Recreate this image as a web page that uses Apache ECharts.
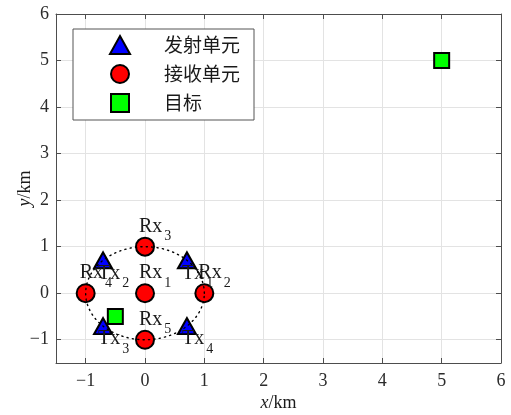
<!DOCTYPE html>
<html>
<head>
<meta charset="utf-8">
<script src="https://cdn.jsdelivr.net/npm/echarts@6/dist/echarts.min.js"></script>
<style>html,body{margin:0;padding:0;background:#fff;}#c{width:511px;height:415px;}</style>
</head>
<body>
<div id="c"></div>
<script>
// ---- data ----
const rxX = [0, 1, 0, -1, 0];
const rxY = [0, 0, 1, 0, -1];
const rxIdx = ['1', '2', '3', '4', '5'];
const txX = [0.707, -0.707, -0.707, 0.707];
const txY = [0.707, 0.707, -0.707, -0.707];
const txIdx = ['1', '2', '3', '4'];
const targetX = [5, -0.5];
const targetY = [5, -0.5];
const arrayCenter = [0, 0];
const arrayRadius = 1;
const xTickLabels = [-1, 0, 1, 2, 3, 4, 5, 6];
const yTickLabels = [-1, 0, 1, 2, 3, 4, 5, 6];
const legendNames = ['发射单元', '接收单元', '目标'];

const serif = 'Liberation Serif';
const axisCol = '#4d4d4d';
const txtCol = '#2b2b2b';

function fmt(list) {
  return function (v) {
    const r = Math.round(v);
    if (Math.abs(v - r) < 1e-9 && list.indexOf(r) >= 0) return String(r).replace('-', '\u2212');
    return '';
  };
}

const richLab = {
  a: { fontFamily: serif, fontSize: 20, lineHeight: 20, verticalAlign: 'top', color: '#1a1a1a' },
  s: { fontFamily: serif, fontSize: 14, lineHeight: 14, verticalAlign: 'top', padding: [13, 0, 0, 2], color: '#1a1a1a' }
};

const chart = echarts.init(document.getElementById('c'), null, { renderer: 'canvas' });

const baseX = { min: -1.5, max: 6, splitNumber: 7, type: 'value' };
const baseY = { min: -1.5, max: 6, splitNumber: 7, type: 'value' };

chart.setOption({
  animation: false,
  backgroundColor: '#fff',
  grid: { left: 56, right: 10, top: 14, bottom: 52, containLabel: false, outerBoundsMode: 'none' },
  xAxis: [
    Object.assign({}, baseX, {
      position: 'bottom',
      name: '{i|x}/km', nameLocation: 'middle', nameGap: 31, nameMoveOverlap: false,
      nameTextStyle: { fontFamily: serif, fontSize: 18, color: '#1a1a1a',
        rich: { i: { fontFamily: serif, fontStyle: 'italic', fontSize: 18, color: '#1a1a1a' } } },
      axisLine: { show: true, onZero: false, lineStyle: { color: axisCol, width: 1 } },
      axisTick: { show: true, inside: true, length: 5, lineStyle: { color: axisCol } },
      axisLabel: { formatter: fmt(xTickLabels), fontFamily: serif, fontSize: 18, color: txtCol, margin: 9, showMinLabel: true, showMaxLabel: true },
      splitLine: { show: true, lineStyle: { color: '#e3e3e3', width: 1 } }
    }),
    Object.assign({}, baseX, {
      position: 'top',
      axisLine: { show: true, onZero: false, lineStyle: { color: axisCol, width: 1 } },
      axisTick: { show: true, inside: true, length: 5, lineStyle: { color: axisCol } },
      axisLabel: { show: false },
      splitLine: { show: false }
    })
  ],
  yAxis: [
    Object.assign({}, baseY, {
      position: 'left',
      name: '{i|y}/km', nameLocation: 'middle', nameGap: 22, nameRotate: 90, nameMoveOverlap: false,
      nameTextStyle: { fontFamily: serif, fontSize: 18, color: '#1a1a1a',
        rich: { i: { fontFamily: serif, fontStyle: 'italic', fontSize: 18, color: '#1a1a1a' } } },
      axisLine: { show: true, onZero: false, lineStyle: { color: axisCol, width: 1 } },
      axisTick: { show: true, inside: true, length: 5, lineStyle: { color: axisCol } },
      axisLabel: { formatter: fmt(yTickLabels), fontFamily: serif, fontSize: 18, color: txtCol, margin: 7, showMinLabel: true, showMaxLabel: true },
      splitLine: { show: true, lineStyle: { color: '#e3e3e3', width: 1 } }
    }),
    Object.assign({}, baseY, {
      position: 'right',
      axisLine: { show: true, onZero: false, lineStyle: { color: axisCol, width: 1 } },
      axisTick: { show: true, inside: true, length: 5, lineStyle: { color: axisCol } },
      axisLabel: { show: false },
      splitLine: { show: false }
    })
  ],
  legend: {
    orient: 'vertical',
    left: 73, top: 29,
    padding: [6, 14, 7, 36],
    itemWidth: 20, itemHeight: 18, itemGap: 9,
    backgroundColor: '#fff',
    borderColor: '#555', borderWidth: 1, borderRadius: 0,
    selectedMode: false,
    textStyle: { fontFamily: 'Noto Sans CJK SC', fontSize: 19, lineHeight: 18, color: '#1a1a1a', padding: [0, 0, 0, 29] },
    data: [
      { name: legendNames[0], icon: 'triangle', itemStyle: { color: '#0000ff', borderColor: '#000', borderWidth: 2 } },
      { name: legendNames[1], icon: 'circle', itemStyle: { color: '#ff0000', borderColor: '#000', borderWidth: 2 } },
      { name: legendNames[2], icon: 'path://M0,0H1V1H0Z', itemStyle: { color: '#00ff00', borderColor: '#000', borderWidth: 2 } }
    ]
  },
  series: [
    {
      name: legendNames[1], type: 'scatter', z: 2,
      symbol: 'circle', symbolSize: 18,
      itemStyle: { color: '#ff0000', borderColor: '#000', borderWidth: 2, opacity: 1 },
      data: rxX.map((x, i) => [x, rxY[i], rxIdx[i]]),
      label: {
        show: true, position: 'inside', align: 'left', verticalAlign: 'top', offset: [-6, -30],
        formatter: p => '{a|Rx}{s|' + p.data[2] + '}', rich: richLab
      },
      emphasis: { disabled: true }
    },
    {
      name: legendNames[0], type: 'scatter', z: 2,
      symbol: 'triangle', symbolSize: [18, 16],
      itemStyle: { color: '#0000ff', borderColor: '#000', borderWidth: 2, opacity: 1 },
      data: txX.map((x, i) => [x, txY[i], txIdx[i]]),
      label: {
        show: true, position: 'inside', align: 'left', verticalAlign: 'top', offset: [-5, 3],
        formatter: p => '{a|Tx}{s|' + p.data[2] + '}', rich: richLab
      },
      emphasis: { disabled: true }
    },
    {
      name: legendNames[2], type: 'scatter', z: 2,
      symbol: 'rect', symbolSize: 15,
      itemStyle: { color: '#00ff00', borderColor: '#000', borderWidth: 2, opacity: 1 },
      data: targetX.map((x, i) => [x, targetY[i]]),
      emphasis: { disabled: true }
    },
    {
      name: 'array', type: 'custom', z: 3, silent: true,
      data: [[arrayCenter[0], arrayCenter[1], arrayRadius]],
      renderItem: function (params, api) {
        const c = api.coord([api.value(0), api.value(1)]);
        const s = api.size([api.value(2), api.value(2)]);
        const pts = [];
        for (let k = 0; k <= 180; k++) {
          const t = k / 180 * 2 * Math.PI;
          pts.push([c[0] + s[0] * Math.cos(t), c[1] - s[1] * Math.sin(t)]);
        }
        return { type: 'polyline', shape: { points: pts },
          style: { stroke: '#000', fill: null, lineWidth: 1.4, lineDash: [1.2, 4.2], lineCap: 'round' } };
      }
    }
  ]
});
</script>
</body>
</html>
